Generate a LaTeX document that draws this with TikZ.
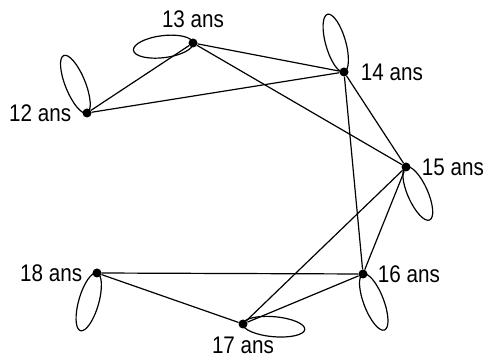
\documentclass[tikz,border=0pt]{standalone}
\usepackage{fontspec}
\setmainfont{Liberation Sans}
\newfontfamily\etiqfont[FakeStretch=0.86]{Liberation Sans}
\usepackage{tikz}
\usetikzlibrary{positioning}
\tikzset{
  sommet/.style={circle, fill=black, inner sep=0pt, minimum size=9pt},
  etiq/.style={font=\etiqfont\fontsize{24}{24}\selectfont, inner sep=0pt},
  arete/.style={line width=1.2pt},
  boucle/.style={line width=1.2pt},
}
\begin{document}
\begin{tikzpicture}[x=1pt, y=1pt]
    \useasboundingbox (0,0) rectangle (484,358);
    % sommets
    \node[sommet] (a12) at (87,245) {};
    \node[sommet] (a13) at (193,315) {};
    \node[sommet] (a14) at (344,286) {};
    \node[sommet] (a15) at (406,191) {};
    \node[sommet] (a16) at (363,84) {};
    \node[sommet] (a17) at (243,34) {};
    \node[sommet] (a18) at (97,85) {};
    % etiquettes
    \node[etiq, left=11pt of a12] (l12) {12 ans};
    \node[etiq, above=10pt of a13] (l13) {13 ans};
    \node[etiq, right=12pt of a14] (l14) {14 ans};
    \node[etiq, right=11pt of a15] (l15) {15 ans};
    \node[etiq, right=10pt of a16] (l16) {16 ans};
    \node[etiq, below=8pt of a17] (l17) {17 ans};
    \node[etiq, left=10pt of a18] (l18) {18 ans};
    % aretes
    \draw[arete] (a12) -- (a13);
    \draw[arete] (a12) -- (a14);
    \draw[arete] (a13) -- (a14);
    \draw[arete] (a13) -- (a15);
    \draw[arete] (a14) -- (a15);
    \draw[arete] (a14) -- (a16);
    \draw[arete] (a15) -- (a16);
    \draw[arete] (a15) -- (a17);
    \draw[arete] (a16) -- (a17);
    \draw[arete] (a16) -- (a18);
    \draw[arete] (a18) -- (a17);
    % boucles
    \path (a12.center) ++(112:31pt) coordinate (c12);
    \draw[boucle, rotate around={112:(c12)}] (c12) ellipse (31pt and 10pt);
    \path (a13.center) ++(187:30pt) coordinate (c13);
    \draw[boucle, rotate around={187:(c13)}] (c13) ellipse (30pt and 11pt);
    \path (a14.center) ++(106:30pt) coordinate (c14);
    \draw[boucle, rotate around={106:(c14)}] (c14) ellipse (30pt and 10pt);
    \path (a15.center) ++(294:29pt) coordinate (c15);
    \draw[boucle, rotate around={294:(c15)}] (c15) ellipse (29pt and 10pt);
    \path (a16.center) ++(291:30pt) coordinate (c16);
    \draw[boucle, rotate around={291:(c16)}] (c16) ellipse (30pt and 10pt);
    \path (a17.center) ++(355:31pt) coordinate (c17);
    \draw[boucle, rotate around={355:(c17)}] (c17) ellipse (31pt and 10pt);
    \path (a18.center) ++(254:30pt) coordinate (c18);
    \draw[boucle, rotate around={254:(c18)}] (c18) ellipse (30pt and 10pt);
\end{tikzpicture}
\end{document}
